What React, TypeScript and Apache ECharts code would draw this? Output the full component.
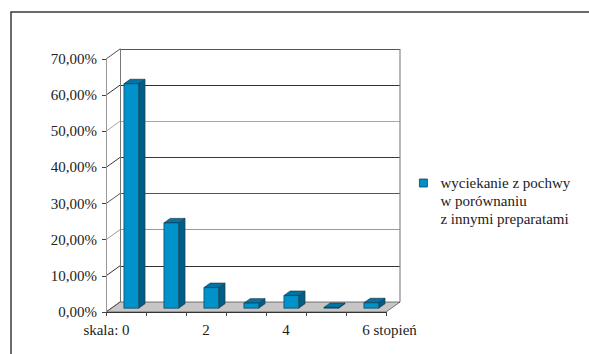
import { useEffect, useRef } from "react";
import * as echarts from "echarts";

// Rating scale categories and the share of answers in each
const CATEGORIES = ["0", "1", "2", "3", "4", "5", "6"];
const X_TICK_LABELS = ["skala: 0", "", "2", "", "4", "", "6 stopień"];
const SHARE = [0.621, 0.236, 0.057, 0.014, 0.035, 0.002, 0.015];
const Y_TICKS = [0, 0.1, 0.2, 0.3, 0.4, 0.5, 0.6, 0.7];
const SERIES_NAME = "wyciekanie z pochwy\nw porównaniu\nz innymi preparatami";

// pseudo-3D depth of the plot box (back wall -> front edge)
const DX = 14;
const DY = 10;
// depth position of a bar's front face and its thickness (fractions of the box depth)
const BAR_FRONT = 0.62;
const BAR_DEPTH = 0.45;
const SERIF = "Liberation Serif";
const SPLIT_COLORS = ["#555", "#333", "#999", "#555", "#3a3a3a", "#a8a8a8", "#333", "#555"];

const fmtPct = (v: number) => (v * 100).toFixed(2).replace(".", ",") + "%";

export default function App() {
  const ref = useRef<HTMLDivElement>(null);

  useEffect(() => {
    if (!ref.current) return;
    document.documentElement.style.overflow = "hidden";
    document.body.style.overflow = "hidden";
    const chart = echarts.init(ref.current, undefined, { renderer: "svg" });
    const yMax = Y_TICKS[Y_TICKS.length - 1];
    const yStep = Y_TICKS[1] - Y_TICKS[0];

    chart.setOption({
      animation: false,
      backgroundColor: "#fff",
      textStyle: { fontFamily: SERIF },
      graphic: [
        {
          // outer frame, its right and bottom sides run past the canvas
          type: "polyline",
          shape: { points: [[11, 400], [11, 12], [640, 12]] },
          style: { fill: "none", stroke: "#3a3a3a", lineWidth: 1.5 },
          silent: true,
          z: -10,
        },
      ],
      grid: [
        // back wall
        { left: 120, top: 49, right: 189, bottom: 52 },
        // front edge (carries the labelled axes)
        { left: 106, top: 59, right: 203, bottom: 42 },
      ],
      xAxis: [
        {
          gridIndex: 0,
          type: "category",
          data: CATEGORIES,
          show: false,
        },
        {
          gridIndex: 1,
          type: "category",
          data: CATEGORIES,
          z: 10,
          axisLine: { show: true, lineStyle: { color: "#333", width: 1 } },
          axisTick: { show: true, interval: 0, length: 4, lineStyle: { color: "#444" } },
          axisLabel: {
            interval: 0,
            margin: 10,
            color: "#222",
            fontFamily: SERIF,
            fontSize: 15,
            formatter: (_v: string, i: number) => {
              const t = X_TICK_LABELS[i];
              if (!t) return "";
              if (i === 0) return "{t|" + t + "}{pr| }";
              if (i === CATEGORIES.length - 1) return "{pl| }{t|" + t + "}";
              return "{t|" + t + "}";
            },
            rich: {
              t: { fontFamily: SERIF, fontSize: 15, color: "#222" },
              pr: { width: 39, fontFamily: SERIF, fontSize: 15 },
              pl: { width: 47, fontFamily: SERIF, fontSize: 15 },
            },
          },
        },
      ],
      yAxis: [
        {
          gridIndex: 0,
          type: "value",
          min: 0,
          max: yMax,
          interval: yStep,
          axisLine: { show: true, lineStyle: { color: "#777", width: 1 } },
          axisTick: { show: false },
          axisLabel: { show: false },
          splitLine: { show: true, lineStyle: { color: SPLIT_COLORS, width: 1.2 } },
        },
        {
          gridIndex: 1,
          type: "value",
          min: 0,
          max: yMax,
          interval: yStep,
          z: 10,
          axisLine: { show: true, lineStyle: { color: "#999", width: 1 } },
          axisTick: { show: true, length: 4, lineStyle: { color: "#444" } },
          splitLine: { show: false },
          axisLabel: {
            margin: 9,
            color: "#222",
            fontFamily: SERIF,
            fontSize: 15,
            formatter: (v: number) => fmtPct(v),
          },
        },
      ],
      legend: {
        left: 419,
        top: 138,
        padding: 0,
        orient: "vertical",
        itemWidth: 8,
        itemHeight: 8,
        data: [{ name: SERIES_NAME, icon: "rect" }],
        // two empty leading lines put the first text line level with the icon
        formatter: (name: string) => "\n\n" + name,
        itemStyle: { color: "#0090c8", borderColor: "#1d3a4a", borderWidth: 0.8 },
        textStyle: {
          fontFamily: SERIF,
          fontSize: 15,
          color: "#222",
          lineHeight: 18,
          padding: [0, 0, 0, 8],
        },
      },
      series: [
        {
          // floor, right edge of the back wall and side-wall gridlines
          type: "custom",
          xAxisIndex: 0,
          yAxisIndex: 0,
          silent: true,
          z: 1,
          data: [[0, 0]],
          renderItem: (params: any, api: any) => {
            const cs = params.coordSys;
            const l = cs.x;
            const r = cs.x + cs.width;
            const y0 = api.coord([0, 0])[1];
            const yT = api.coord([0, yMax])[1];
            const children: any[] = [
              {
                type: "polygon",
                shape: { points: [[l - DX, y0 + DY], [r - DX, y0 + DY], [r, y0], [l, y0]] },
                style: { fill: "#c6c6c6", stroke: "#555", lineWidth: 0.8 },
              },
              {
                type: "line",
                shape: { x1: r, y1: yT, x2: r, y2: y0 },
                style: { stroke: "#888", lineWidth: 1.2 },
              },
            ];
            Y_TICKS.forEach((t, k) => {
              const yb = api.coord([0, t])[1];
              children.push({
                type: "line",
                shape: { x1: l - DX, y1: yb + DY, x2: l, y2: yb },
                style: { stroke: SPLIT_COLORS[k], lineWidth: 1 },
              });
            });
            return { type: "group", children };
          },
        },
        {
          name: SERIES_NAME,
          type: "custom",
          xAxisIndex: 0,
          yAxisIndex: 0,
          z: 3,
          itemStyle: { color: "#0090c8" },
          encode: { x: 0, y: 1 },
          data: SHARE.map((v, i) => [i, v]),
          renderItem: (_params: any, api: any) => {
            const i = api.value(0);
            const v = api.value(1);
            const top = api.coord([i, v]);
            const bot = api.coord([i, 0]);
            const w = api.size([1, 0])[0] * 0.37;
            const fx = -DX * BAR_FRONT;
            const fy = DY * BAR_FRONT;
            const kx = DX * BAR_DEPTH;
            const ky = -DY * BAR_DEPTH;
            const x0 = top[0] + fx - w / 2;
            const x1 = x0 + w;
            const yT = top[1] + fy;
            const yB = bot[1] + fy;
            const edge = { stroke: "#1d3a4a", lineWidth: 0.7 };
            return {
              type: "group",
              children: [
                {
                  type: "polygon",
                  shape: { points: [[x1, yT], [x1, yB], [x1 + kx, yB + ky], [x1 + kx, yT + ky]] },
                  style: { fill: "#005f88", ...edge },
                },
                {
                  type: "polygon",
                  shape: { points: [[x0, yT], [x1, yT], [x1 + kx, yT + ky], [x0 + kx, yT + ky]] },
                  style: { fill: "#0074a6", ...edge },
                },
                {
                  type: "rect",
                  shape: { x: x0, y: yT, width: w, height: Math.max(0, yB - yT) },
                  style: { fill: "#0092ca", ...edge },
                },
              ],
            };
          },
        },
      ],
    });

    return () => chart.dispose();
  }, []);

  return (
    <div
      ref={ref}
      style={{
        position: "absolute",
        left: 0,
        top: 0,
        width: 589,
        height: 354,
        overflow: "hidden",
        background: "#fff",
      }}
    />
  );
}
